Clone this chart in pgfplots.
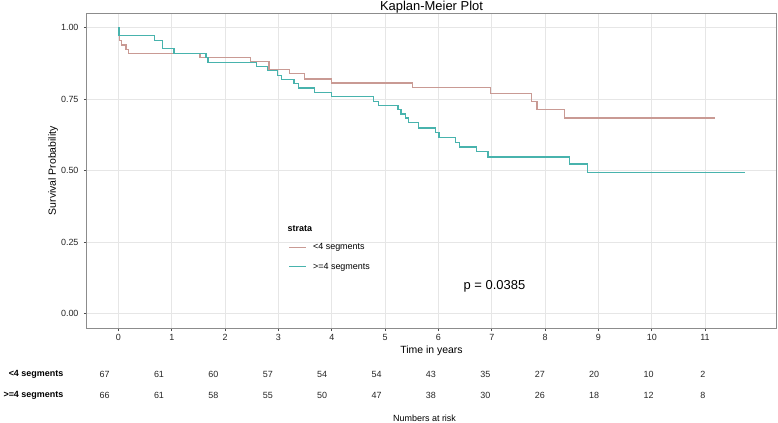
\documentclass[border=0pt]{standalone}
\usepackage{fontspec}
\setmainfont{Liberation Sans}
\usepackage{pgfplots}
\pgfplotsset{compat=1.18}

\definecolor{kmred}{HTML}{C99A94}
\definecolor{kmcyan}{HTML}{48B3AD}
\definecolor{gridgray}{HTML}{E6E6E6}
\definecolor{framegray}{HTML}{8C8C8C}

\begin{document}
\begin{tikzpicture}
\useasboundingbox (-87bp,-95bp) rectangle (691bp,328bp);
\begin{axis}[
  at={(0,0)}, anchor=south west,
  scale only axis, width=689bp, height=314.5bp,
  xmin=-0.59, xmax=12.33, ymin=-0.05, ymax=1.05,
  xtick={0,1,...,11}, ytick={0,0.25,0.5,0.75,1},
  /pgf/number format/assume math mode=true,
  yticklabel style={xshift=-2bp, /pgf/number format/fixed, /pgf/number format/fixed zerofill, /pgf/number format/precision=2},
  tick label style={font=\fontsize{9}{10}\selectfont, text=black!85},
  grid=major, major grid style={draw=gridgray, line width=0.8bp},
  axis line style={draw=framegray, line width=1bp},
  tick align=outside, major tick length=3bp,
  tick style={draw=black!70, line width=0.8bp},
  xtick pos=bottom, ytick pos=left,
  xlabel={Time in years}, ylabel={Survival Probability},
  label style={font=\fontsize{10.5}{12}\selectfont},
  xlabel style={at={(axis description cs:0.5,-0.072)}, anchor=center},
  ylabel style={at={(axis description cs:-0.049,0.5)}, anchor=center},
  title={Kaplan-Meier Plot},
  every axis title shift=0pt,
  title style={font=\fontsize{13}{14}\selectfont, at={(axis description cs:0.5,1)}, anchor=base, yshift=3bp},
  clip=false,
  legend style={draw=none, fill=none, at={(axis cs:3.19,0.248)}, anchor=north west,
    font=\fontsize{9}{10}\selectfont, inner sep=0pt, row sep=10.3bp, column sep=6bp,
    nodes={inner sep=0pt, text height=7bp, text depth=2bp}},
  legend cell align=left,
  legend image code/.code={\draw[#1] (0bp,0bp) -- (17bp,0bp);},
]
% <4 segments
\addplot[const plot, color=kmred, line width=1.3bp] coordinates {
  (0,1) (0.02,0.955) (0.06,0.940) (0.14,0.925) (0.19,0.910)
  (1.53,0.896) (2.47,0.881) (2.82,0.853) (3.21,0.839) (3.49,0.821)
  (3.99,0.807) (5.52,0.792) (6.97,0.769) (7.74,0.742) (7.85,0.715)
  (8.37,0.685) (11.18,0.685)};
\addlegendentry{<4 segments}
% >=4 segments
\addplot[const plot, color=kmcyan, line width=1.3bp] coordinates {
  (0,1) (0.01,0.972) (0.68,0.956) (0.83,0.927) (1.04,0.911)
  (1.64,0.896) (1.68,0.879) (2.59,0.865) (2.80,0.850) (2.98,0.832)
  (3.06,0.818) (3.29,0.804) (3.38,0.789) (3.68,0.774) (4.00,0.760)
  (4.78,0.742) (4.88,0.727) (5.24,0.713) (5.30,0.699) (5.38,0.684)
  (5.44,0.669) (5.63,0.649) (5.94,0.635) (6.01,0.617) (6.32,0.600)
  (6.39,0.583) (6.72,0.567) (6.93,0.548) (8.46,0.524) (8.79,0.495)
  (11.74,0.495)};
\addlegendentry{>=4 segments}

% numbers at risk
\addplot[only marks, mark=none, point meta=explicit symbolic, nodes near coords,
  nodes near coords style={anchor=center, font=\fontsize{9}{10}\selectfont, text=black!85},
  forget plot] coordinates {
  (-0.26,-0.211)[67] (0.76,-0.211)[61] (1.78,-0.211)[60] (2.80,-0.211)[57]
  (3.82,-0.211)[54] (4.84,-0.211)[54] (5.86,-0.211)[43] (6.88,-0.211)[35]
  (7.90,-0.211)[27] (8.92,-0.211)[20] (9.94,-0.211)[10] (10.96,-0.211)[2]
  (-0.26,-0.287)[66] (0.76,-0.287)[61] (1.78,-0.287)[58] (2.80,-0.287)[55]
  (3.82,-0.287)[50] (4.84,-0.287)[47] (5.86,-0.287)[38] (6.88,-0.287)[30]
  (7.90,-0.287)[26] (8.92,-0.287)[18] (9.94,-0.287)[12] (10.96,-0.287)[8]};

\node[anchor=east, font=\bfseries\fontsize{9}{10}\selectfont, inner sep=0pt] at (axis cs:-1.03,-0.211) {<4 segments};
\node[anchor=east, font=\bfseries\fontsize{9}{10}\selectfont, inner sep=0pt] at (axis cs:-1.03,-0.287) {>=4 segments};
\node[font=\fontsize{9}{10}\selectfont, inner sep=0pt] at (axis cs:5.74,-0.365) {Numbers at risk};
\node[anchor=west, font=\bfseries\fontsize{9}{10}\selectfont, inner sep=0pt] at (axis cs:3.17,0.296) {strata};
\node[font=\fontsize{13}{14}\selectfont, inner sep=0pt] at (axis cs:7.05,0.0945) {p = 0.0385};
\end{axis}
\end{tikzpicture}
\end{document}
